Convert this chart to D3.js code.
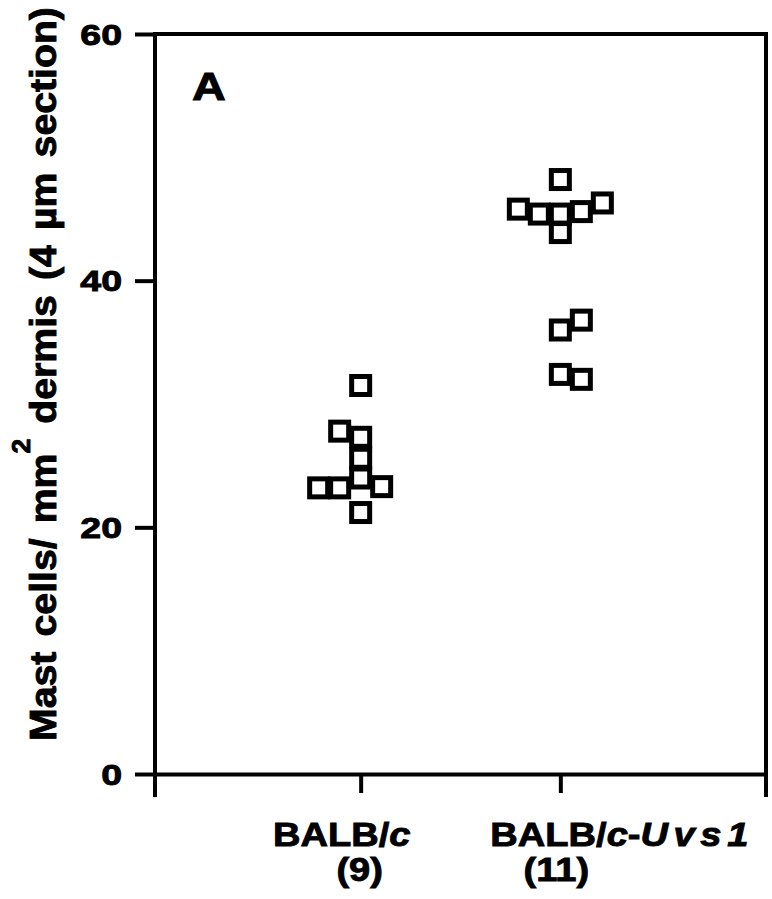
<!DOCTYPE html>
<html><head><meta charset="utf-8">
<script src="https://cdn.jsdelivr.net/npm/d3@7"></script>
<style>
body{margin:0;background:#fff}
svg text{font-family:"Liberation Sans",Arial,Helvetica,sans-serif;font-weight:bold;fill:#000;stroke:#000;stroke-width:0.9px}
</style>
</head><body>
<svg id="chart" width="772" height="899"></svg>
<script>
// ---- data ----
const groups = ["BALB/c", "BALB/c-Uvs1"];
const groupN = [9, 11];
const yTicks = [0, 20, 40, 60];
const panelLabel = "A";
// values; slot = horizontal jitter column (in symbol widths)
const balbValues = [31.5, 27.8, 27.3, 25.6, 24.0, 23.2, 23.2, 23.3, 21.2];
const balbSlots  = [0, -1, 0, 0, 0, -2, -1, 1, 0];
const uvsValues  = [48.2, 45.8, 45.4, 45.4, 43.9, 45.6, 46.3, 36.0, 36.8, 32.4, 32.0];
const uvsSlots   = [0, -2, -1, 0, 0, 1, 2, 0, 1, 0, 1];

const points = [];
balbValues.forEach((v,i)=>points.push({g:groups[0], v, s:balbSlots[i]}));
uvsValues.forEach((v,i)=>points.push({g:groups[1], v, s:uvsSlots[i]}));

// ---- layout ----
const svg = d3.select("#chart");
const pLeft = 155, pRight = 766, pTop = 34, pBottom = 774, frameBottom = 795;
const y = d3.scaleLinear().domain([0, 60]).range([pBottom, pTop]);
const x = d3.scalePoint().domain(groups).range([pLeft, pRight]).padding(1.03);
const slotW = 21, sq = 18;

// y axis (ticks via d3 axis, labels drawn stretched like the original type)
const ya = svg.append("g").attr("transform", `translate(${pLeft},0)`)
  .call(d3.axisLeft(y).tickValues(yTicks).tickSize(20).tickSizeOuter(0).tickFormat(""));
ya.select(".domain").remove();
ya.selectAll(".tick line").attr("stroke","#000").attr("stroke-width",4);
svg.append("g").selectAll("text").data(yTicks).enter().append("text")
  .attr("transform", d => `translate(122,${y(d)}) scale(1.25,1)`)
  .attr("text-anchor","end").attr("dy","0.36em").style("font-size","30px")
  .text(d => d);

// x axis
const xa = svg.append("g").attr("transform", `translate(0,${pBottom})`)
  .call(d3.axisBottom(x).tickSize(19).tickSizeOuter(0).tickFormat(""));
xa.select(".domain").attr("stroke","#000").attr("stroke-width",4);
xa.selectAll(".tick line").attr("stroke","#000").attr("stroke-width",4);

// frame lines
const frame = svg.append("g").attr("stroke","#000").attr("stroke-width",4).attr("stroke-linecap","square");
frame.append("line").attr("x1",pLeft).attr("x2",pLeft).attr("y1",pTop).attr("y2",frameBottom);
frame.append("line").attr("x1",pRight).attr("x2",pRight).attr("y1",pTop).attr("y2",frameBottom);
frame.append("line").attr("x1",pLeft).attr("x2",pRight).attr("y1",pTop).attr("y2",pTop);

// category labels
const lab = svg.append("g");
const t1 = lab.append("text").attr("transform", `translate(${x(groups[0]) - 19},846) scale(1.12,1)`)
  .attr("text-anchor","middle").style("font-size","34px");
t1.append("tspan").text("BALB/");
t1.append("tspan").style("font-style","italic").text("c");
const t2 = lab.append("text").attr("transform", `translate(${x(groups[1]) + 59},846) scale(1.12,1)`)
  .attr("text-anchor","middle").style("font-size","34px");
t2.append("tspan").text("BALB/");
t2.append("tspan").style("font-style","italic").text("c");
t2.append("tspan").text("-");
t2.append("tspan").style("font-style","italic").attr("letter-spacing","5px").text("Uvs");
t2.append("tspan").style("font-style","italic").text("1");
lab.selectAll("text.n").data(groups).enter().append("text").attr("class","n")
  .attr("transform",(d,i)=>`translate(${x(d) - (i?4:1)},881) scale(1.12,1)`)
  .attr("text-anchor","middle").style("font-size","34px")
  .text((d,i)=>`(${groupN[i]})`);

// y label
const yl = svg.append("text").attr("transform","translate(56,374) rotate(-90) scale(1.06,1)")
  .attr("text-anchor","middle").style("font-size","37px").attr("word-spacing","4px");
yl.append("tspan").text("Mast cells/ mm");
yl.append("tspan").attr("dy","-26").style("font-size","25px").text("2");
yl.append("tspan").attr("dy","26").text(" dermis (4 \u00b5m section)");

// panel label
svg.append("text").attr("transform","translate(209,100) scale(1.2,1)")
  .attr("text-anchor","middle").style("font-size","39px").text(panelLabel);

// points
svg.append("g").selectAll("rect").data(points).enter().append("rect")
  .attr("x", d => x(d.g) + d.s*slotW - sq/2)
  .attr("y", d => y(d.v) - sq/2)
  .attr("width", sq).attr("height", sq)
  .attr("fill","none").attr("stroke","#000").attr("stroke-width",5);
</script>
</body></html>
